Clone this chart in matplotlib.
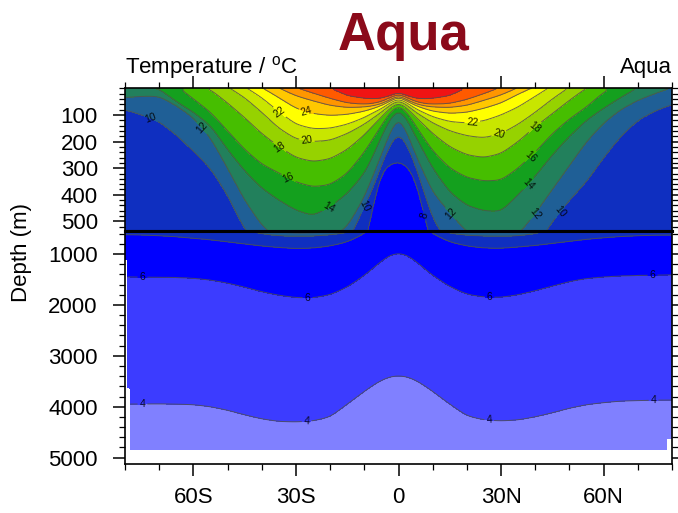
import numpy as np
import matplotlib
matplotlib.use("Agg")
import matplotlib.pyplot as plt
from matplotlib.colors import ListedColormap, BoundaryNorm
from matplotlib.ticker import MultipleLocator, FixedLocator

plt.rcParams['font.family'] = ['Liberation Sans', 'DejaVu Sans']
plt.rcParams['mathtext.fontset'] = 'custom'
plt.rcParams['mathtext.rm'] = 'Liberation Sans'

# ---------------- data ----------------
# latitude columns at which isotherm depths (m) were read
col_lat = [-80, -75, -70, -65, -60, -55, -50, -45, -40, -35, -30, -25, -20, -15, -10, -7.5, -5, -2.5,
           0, 2.5, 5, 7.5, 10, 15, 20, 25, 30, 35, 40, 45, 50, 55, 60, 65, 70, 75, 80]
sst = [13.2, 13.5, 14.05, 15.4, 16.9, 18.1, 19.6, 21.6, 23.8, 25.9, 27.8, 29.0, 29.9, 30.6, 31.0, 31.1, 31.1, 30.9,
       30.6, 30.9, 31.1, 31.1, 31.0, 30.6, 29.8, 28.9, 27.7, 25.8, 23.5, 21.3, 19.7, 17.9, 16.2, 14.9, 13.8, 12.6, 11.8]
n = np.nan
d30 = [n, n, n, n, n, n, n, n, n, n, n, n, n, 28, 38, 40, 38, 28,
       15, 28, 38, 40, 38, 28, n, n, n, n, n, n, n, n, n, n, n, n, n]
d28 = [n, n, n, n, n, n, n, n, n, n, n, 18, 38, 55, 60, 57, 50, 35,
       20, 35, 50, 57, 60, 57, 42, 20, n, n, n, n, n, n, n, n, n, n, n]
d26 = [n, n, n, n, n, n, n, n, n, n, 28, 47, 64, 72, 70, 66, 58, 43,
       26, 43, 58, 66, 70, 72, 64, 45, 25, n, n, n, n, n, n, n, n, n, n]
d24 = [n, n, n, n, n, n, n, n, n, 35, 75, 95, 102, 98, 86, 76, 65, 48,
       31, 48, 65, 76, 86, 94, 90, 75, 55, 22, n, n, n, n, n, n, n, n, n]
d22 = [n, n, n, n, n, n, n, n, 35, 88, 135, 152, 150, 135, 110, 92, 77, 55,
       37, 55, 77, 92, 107, 125, 130, 122, 100, 70, 30, n, n, n, n, n, n, n, n]
d20 = [n, n, n, n, n, n, n, 35, 90, 150, 190, 200, 195, 170, 135, 112, 90, 63,
       44, 63, 90, 110, 130, 160, 178, 186, 170, 135, 90, 40, n, n, n, n, n, n, n]
d18 = [n, n, n, n, n, 5, 55, 110, 170, 219, 260, 275, 265, 230, 175, 140, 108, 74,
       52, 74, 108, 138, 170, 220, 250, 260, 245, 200, 144, 95, 45, n, n, n, n, n, n]
d16 = [n, n, n, n, 40, 90, 160, 230, 285, 318, 352, 370, 362, 320, 240, 190, 140, 90,
       62, 90, 140, 188, 235, 300, 335, 348, 345, 300, 240, 170, 115, 70, 15, n, n, n, n]
d14 = [n, n, 3, 50, 90, 140, 230, 310, 375, 420, 458, 478, 445, 395, 320, 256, 180, 115,
       78, 115, 180, 240, 300, 390, 440, 460, 462, 400, 330, 250, 180, 120, 75, 35, n, n, n]
d12 = [35, 30, 30, 65, 110, 185, 300, 420, 515, 570, 590, 585, 565, 520, 410, 330, 250, 165,
       105, 165, 250, 320, 390, 467, 540, 570, 575, 550, 470, 380, 290, 200, 130, 80, 45, 20, n]
d10 = [80, 100, 125, 175, 235, 300, 400, 530, 600, 640, 650, 645, 620, 580, 444, 375, 290, 210,
       165, 210, 290, 390, 490, 590, 630, 645, 650, 640, 600, 500, 420, 350, 260, 180, 120, 85, 60]
d8 = [620, 625, 640, 660, 690, 720, 760, 800, 840, 870, 890, 880, 840, 760, 600, 440, 310, 285,
      275, 290, 340, 470, 600, 760, 840, 880, 885, 860, 830, 790, 750, 710, 680, 655, 640, 630, 625]
d6 = [1450, 1452, 1455, 1460, 1475, 1510, 1570, 1650, 1740, 1810, 1855, 1860, 1800, 1650, 1420, 1280, 1140, 1020,
      980, 1020, 1140, 1280, 1420, 1640, 1790, 1845, 1850, 1800, 1720, 1630, 1540, 1480, 1450, 1430, 1420, 1413, 1410]
d4 = [3950, 3947, 3945, 3950, 3960, 4000, 4070, 4160, 4240, 4290, 4300, 4280, 4200, 3950, 3700, 3580, 3480, 3410,
      3390, 3410, 3480, 3580, 3700, 3950, 4180, 4260, 4280, 4260, 4200, 4120, 4030, 3960, 3920, 3890, 3880, 3872, 3870]
iso_levels = [30, 28, 26, 24, 22, 20, 18, 16, 14, 12, 10, 8, 6, 4]
iso_depths = [d30, d28, d26, d24, d22, d20, d18, d16, d14, d12, d10, d8, d6, d4]
bottom_temp = 3.0
bottom_depth = 5200.0

# ocean floor (white, no data)
floor_lat_edges = [-80, -79.4, -78.6, 78.4, 80]
floor_depth = [1100, 3630, 4850, 4630]

fill_levels = [0, 2, 4, 6, 8, 10, 12, 14, 16, 18, 20, 22, 24, 26, 28, 30, 40]
fill_colors = ['#a0a0ff', '#8080ff', '#3c3cff', '#0000ff', '#0f2fc0', '#1f5f96', '#22805c', '#14a01e',
               '#46be00', '#96d200', '#c8e600', '#ffff00', '#ffc800', '#ff9600', '#ff5a00', '#f01414']
line_levels = [4, 6, 8, 10, 12, 14, 16, 18, 20, 22, 24, 26, 28, 30]

lat_ticks = [-60, -30, 0, 30, 60]
lat_labels = ['60S', '30S', '0', '30N', '60N']
top_depth_ticks = [100, 200, 300, 400, 500]
bot_depth_ticks = [1000, 2000, 3000, 4000, 5000]

labels_top = [(-72.5, 118), (-57.3, 148), (-34.7, 88), (-27.1, 92), (-34.7, 219), (-26.8, 197),
              (-32.1, 336), (-20.4, 444), (-9.9, 444), (6.1, 482), (15.5, 467), (21.6, 130),
              (29.5, 174), (39.8, 144), (38.3, 250), (37.7, 355), (39.2, 463), (47.1, 463)]
labels_bot = [(-74.9, 1452), (-26.6, 1864), (26.6, 1845), (74.3, 1413),
              (-74.9, 3947), (-26.9, 4261), (26.6, 4222), (74.6, 3870)]

# ---------------- build the field from the isotherm depths ----------------
lat_f = np.linspace(-80, 80, 641)
z_f = np.concatenate([np.arange(0, 560, 2.0), np.arange(560, 5200, 10.0)])

sig = 5.0  # gaussian width in grid points (1.25 deg)
r = int(3 * sig)
ker = np.exp(-0.5 * (np.arange(-r, r + 1) / sig) ** 2)
ker /= ker.sum()


def smooth(y):
    return np.convolve(np.pad(y, r, mode='edge'), ker, mode='valid')


sst_arr = np.array(sst)
sst_f = smooth(np.interp(lat_f, col_lat, sst_arr))
D = []
for lev, d in zip(iso_levels, iso_depths):
    d = np.array(d, float)
    bad = np.isnan(d)
    d[bad] = -15.0 * (lev - sst_arr[bad])  # virtual height above the surface where outcropped
    D.append(smooth(np.interp(lat_f, col_lat, d)))

T = np.empty((len(z_f), len(lat_f)))
for i in range(len(lat_f)):
    zs = [0.0]
    ts = [sst_f[i]]
    for lev, dd in zip(iso_levels, D):
        v = dd[i]
        if v <= zs[-1] or lev >= ts[-1]:
            continue
        zs.append(v)
        ts.append(lev)
    zs.append(bottom_depth)
    ts.append(bottom_temp)
    T[:, i] = np.interp(z_f, zs, ts)

floor = np.array(floor_depth)[np.clip(np.searchsorted(floor_lat_edges, lat_f, side='right') - 1, 0, len(floor_depth) - 1)]
mask = z_f[:, None] > floor[None, :]
Tm = np.ma.array(T, mask=mask)

cmap = ListedColormap(fill_colors)
norm = BoundaryNorm(fill_levels, cmap.N)

# ---------------- figure ----------------
fig = plt.figure(figsize=(6.78, 5.13), dpi=100)
W, H = 678.0, 513.0
x0, x1 = 125.0, 672.0
yt, ym, yb = 88.3, 230.5, 463.5
ax1 = fig.add_axes([x0 / W, 1 - ym / H, (x1 - x0) / W, (ym - yt) / H])
ax2 = fig.add_axes([x0 / W, 1 - yb / H, (x1 - x0) / W, (yb - ym) / H])

sel1 = z_f <= 560
sel2 = z_f >= 500
line_kw = dict(colors='#505050', linewidths=0.7, alpha=0.85)

ax1.contourf(lat_f, z_f[sel1], Tm[sel1], levels=fill_levels, cmap=cmap, norm=norm)
cs1 = ax1.contour(lat_f, z_f[sel1], Tm[sel1], levels=line_levels, **line_kw)
ax1.clabel(cs1, fmt='%d', fontsize=7.5, colors='k', inline=True, inline_spacing=2, manual=labels_top)

ax2.contourf(lat_f, z_f[sel2], Tm[sel2], levels=fill_levels, cmap=cmap, norm=norm)
cs2 = ax2.contour(lat_f, z_f[sel2], Tm[sel2], levels=line_levels, **line_kw)
ax2.clabel(cs2, fmt='%d', fontsize=7.5, colors='k', inline=True, inline_spacing=2, manual=labels_bot)

ax1.set_xlim(-80, 80)
ax2.set_xlim(-80, 80)
ax1.set_ylim(534, 0)
ax2.set_ylim(5116, 538)

for ax in (ax1, ax2):
    for s in ax.spines.values():
        s.set_linewidth(1.2)
ax1.spines['bottom'].set_linewidth(2.2)
ax2.spines['top'].set_linewidth(2.2)

# ticks
ax1.xaxis.set_major_locator(FixedLocator(lat_ticks))
ax1.xaxis.set_minor_locator(MultipleLocator(10))
ax1.tick_params(axis='x', which='both', top=True, bottom=False, labeltop=False, labelbottom=False, direction='out')
ax1.yaxis.set_major_locator(FixedLocator(top_depth_ticks))
ax1.yaxis.set_minor_locator(MultipleLocator(20))
ax1.tick_params(axis='y', which='both', left=True, right=True, labelleft=True, direction='out')

ax2.xaxis.set_major_locator(FixedLocator(lat_ticks))
ax2.xaxis.set_minor_locator(MultipleLocator(10))
ax2.set_xticklabels(lat_labels)
ax2.tick_params(axis='x', which='both', top=False, bottom=True, direction='out')
ax2.yaxis.set_major_locator(FixedLocator(bot_depth_ticks))
ax2.yaxis.set_minor_locator(MultipleLocator(200))
ax2.tick_params(axis='y', which='both', left=True, right=True, labelleft=True, direction='out')

for ax in (ax1, ax2):
    ax.tick_params(which='major', length=8.6, width=1.1, labelsize=16)
    ax.tick_params(which='minor', length=4.3, width=0.9)
    ax.tick_params(axis='y', which='major', pad=11)
    ax.tick_params(axis='x', which='major', pad=8)

fig.text(22 / W, 1 - 252 / H, 'Depth (m)', rotation=90, ha='center', va='center', fontsize=16)
fig.text(x0 / W, 1 - 73 / H, 'Temperature / $^{\\mathrm{o}}$C', ha='left', va='baseline', fontsize=16)
fig.text(x1 / W, 1 - 73 / H, 'Aqua', ha='right', va='baseline', fontsize=16)
fig.text(404 / W, 1 - 50 / H, 'Aqua', ha='center', va='baseline', fontsize=38, fontweight='bold', color='#8b0a1a')

fig.savefig('out.png', dpi=100)
